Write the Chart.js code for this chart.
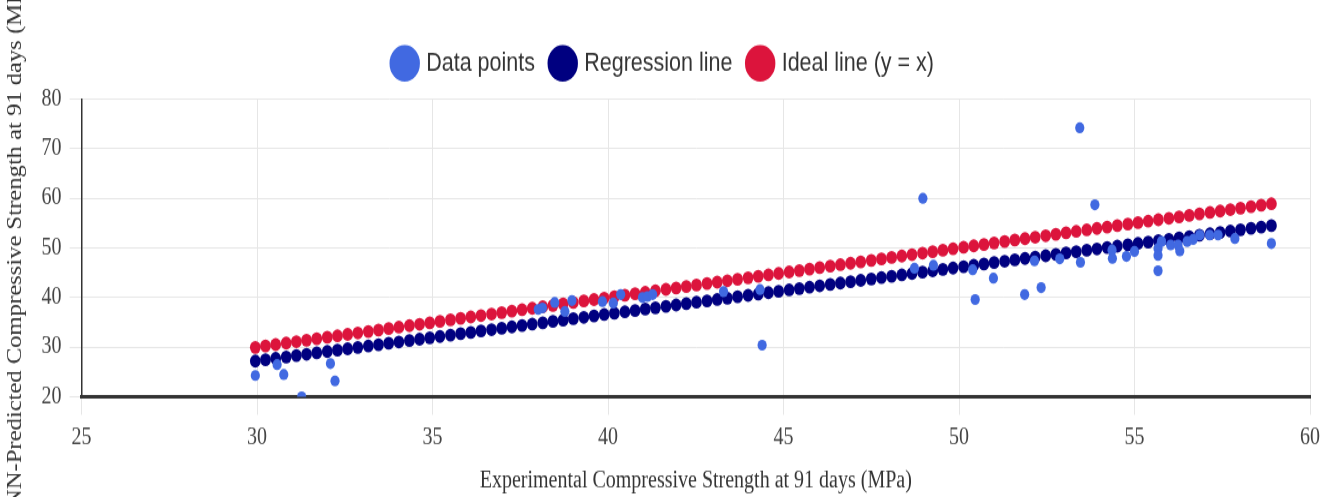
<!DOCTYPE html>
<html>
<head>
<meta charset="utf-8">
<script src="https://cdn.jsdelivr.net/npm/chart.js@4.4.1/dist/chart.umd.min.js"></script>
<style>
    html { overflow: hidden; background: #fff; }
    body { margin: 0; padding: 0; height: 497px; background: #fff; }
    #wrap { position: relative; width: 1335px; height: 414px; }
    /* the reference is stretched vertically, so draw at 414px high and scale the canvas up */
    #my-chart { transform: scaleY(1.2005); transform-origin: 0 0; }
</style>
</head>
<body>
<div id="wrap"><canvas id="my-chart"></canvas></div>
<script>
// experimental vs predicted (MPa)
let expX = [29.95, 30.57, 30.76, 31.27, 32.09, 32.22,
    38.01, 38.13, 38.48, 38.77, 38.97, 39.84, 40.15, 40.36, 40.98, 41.12, 41.27, 43.29, 44.33, 44.39,
    48.73, 48.97, 49.27, 50.39, 50.46, 50.98, 51.87, 52.15, 52.34, 52.87, 53.44, 53.46, 53.87,
    54.36, 54.37, 54.77, 55.00, 55.67, 55.67, 55.67, 55.77, 56.03, 56.24, 56.29, 56.50, 56.67,
    56.86, 57.14, 57.38, 57.86, 58.90];
let predY = [24.3, 26.5, 24.5, 20.0, 26.7, 23.2,
    37.6, 37.9, 39.0, 37.2, 39.4, 39.2, 38.9, 40.6, 40.0, 40.2, 40.6, 41.2, 41.6, 30.4,
    45.9, 60.0, 46.5, 45.6, 39.6, 43.9, 40.6, 47.4, 42.0, 47.8, 74.2, 47.1, 58.7,
    49.6, 47.9, 48.3, 49.3, 49.9, 48.5, 45.4, 51.3, 50.6, 50.6, 49.4, 51.3, 51.7,
    52.6, 52.6, 52.6, 51.9, 50.9];

// x positions of the dots that make up both lines
let lineX = [29.95, 30.24, 30.53, 30.83, 31.12, 31.41, 31.70, 32.00, 32.29, 32.58,
    32.87, 33.17, 33.46, 33.75, 34.04, 34.34, 34.63, 34.92, 35.21, 35.51,
    35.80, 36.09, 36.38, 36.68, 36.97, 37.26, 37.55, 37.84, 38.14, 38.43,
    38.72, 39.01, 39.31, 39.60, 39.89, 40.18, 40.48, 40.77, 41.06, 41.35,
    41.65, 41.94, 42.23, 42.52, 42.82, 43.11, 43.40, 43.69, 43.99, 44.28,
    44.57, 44.86, 45.16, 45.45, 45.74, 46.03, 46.33, 46.62, 46.91, 47.20,
    47.50, 47.79, 48.08, 48.37, 48.66, 48.96, 49.25, 49.54, 49.83, 50.13,
    50.42, 50.71, 51.00, 51.30, 51.59, 51.88, 52.17, 52.47, 52.76, 53.05,
    53.34, 53.64, 53.93, 54.22, 54.51, 54.81, 55.10, 55.39, 55.68, 55.98,
    56.27, 56.56, 56.85, 57.15, 57.44, 57.73, 58.02, 58.32, 58.61, 58.90];

let regY = [27.20, 27.48, 27.75, 28.03, 28.30, 28.58, 28.85, 29.13, 29.41, 29.68,
    29.96, 30.23, 30.51, 30.78, 31.06, 31.34, 31.61, 31.89, 32.16, 32.44,
    32.72, 32.99, 33.27, 33.54, 33.82, 34.09, 34.37, 34.65, 34.92, 35.20,
    35.47, 35.75, 36.02, 36.30, 36.58, 36.85, 37.13, 37.40, 37.68, 37.95,
    38.23, 38.51, 38.78, 39.06, 39.33, 39.61, 39.88, 40.16, 40.44, 40.71,
    40.99, 41.26, 41.54, 41.82, 42.09, 42.37, 42.64, 42.92, 43.19, 43.47,
    43.75, 44.02, 44.30, 44.57, 44.85, 45.12, 45.40, 45.68, 45.95, 46.23,
    46.50, 46.78, 47.05, 47.33, 47.61, 47.88, 48.16, 48.43, 48.71, 48.99,
    49.26, 49.54, 49.81, 50.09, 50.36, 50.64, 50.92, 51.19, 51.47, 51.74,
    52.02, 52.29, 52.57, 52.85, 53.12, 53.40, 53.67, 53.95, 54.22, 54.50];

let xTicks = [25, 30, 35, 40, 45, 50, 55, 60];
let yTicks = [20, 30, 40, 50, 60, 70, 80];

const serif = "'Liberation Serif', 'DejaVu Serif', serif";

let pts = expX.map((x, i) => ({ x: x, y: predY[i] }));
let regPts = lineX.map((x, i) => ({ x: x, y: regY[i] }));
let idealPts = lineX.map(x => ({ x: x, y: x })); // y = x

// a bit more room under the legend, and nudge it right
const legendGap = {
    id: 'legendGap',
    beforeInit(chart) {
        const fit = chart.legend.fit;
        chart.legend.fit = function() {
            fit.bind(chart.legend)();
            this.height += 9;
        };
    },
    afterLayout(chart) {
        chart.legend.left += 9;
        chart.legend.right += 9;
    }
};

const ctx = document.getElementById('my-chart').getContext('2d');

let myChart = new Chart(ctx, {
    type: 'scatter',
    data: {
        datasets: [{
            label: 'Data points',
            data: pts,
            backgroundColor: 'royalblue',
            borderColor: 'royalblue',
            pointRadius: 4.6,
            borderWidth: 0
        }, {
            label: 'Regression line',
            data: regPts,
            backgroundColor: 'navy',
            borderColor: 'navy',
            pointRadius: 5.4,
            borderWidth: 0
        }, {
            label: 'Ideal line (y = x)',
            data: idealPts,
            backgroundColor: 'crimson',
            borderColor: 'crimson',
            pointRadius: 5.4,
            borderWidth: 0
        }]
    },
    options: {
        responsive: true,
        maintainAspectRatio: false,
        animation: false,
        devicePixelRatio: 1,
        layout: { padding: { top: 25, right: 25, left: 0, bottom: 0 } },
        plugins: {
            tooltip: { enabled: false },
            legend: {
                position: 'top',
                labels: {
                    usePointStyle: true,
                    color: '#333',
                    padding: 17,
                    font: { family: "'Liberation Sans', Arial, sans-serif", size: 21.5 }
                }
            }
        },
        scales: {
            x: {
                type: 'linear',
                min: 25,
                max: 60,
                afterBuildTicks: (axis) => { axis.ticks = xTicks.map(v => ({ value: v })); },
                ticks: {
                    color: '#444',
                    padding: 7,
                    font: { family: serif, size: 20 }
                },
                grid: { color: '#e6e6e6', tickLength: 15, tickColor: '#e6e6e6' },
                border: { color: '#333', width: 3 },
                title: {
                    display: true,
                    text: 'Experimental Compressive Strength at 91 days (MPa)',
                    color: '#333',
                    padding: { top: 5, bottom: 1.5 },
                    font: { family: serif, size: 20 }
                }
            },
            y: {
                type: 'linear',
                min: 20,
                max: 80,
                afterBuildTicks: (axis) => { axis.ticks = yTicks.map(v => ({ value: v })); },
                ticks: {
                    color: '#444',
                    padding: 8,
                    font: { family: serif, size: 20 }
                },
                grid: { color: '#e6e6e6', tickLength: 12, tickColor: '#e6e6e6' },
                border: { color: '#333', width: 1.5 },
                title: {
                    display: true,
                    text: 'ANN-Predicted Compressive Strength at 91 days (MPa)',
                    color: '#333',
                    padding: { top: 3, bottom: 6 },
                    font: { family: serif, size: 20.5 }
                }
            }
        }
    },
    plugins: [legendGap]
});
</script>
</body>
</html>
